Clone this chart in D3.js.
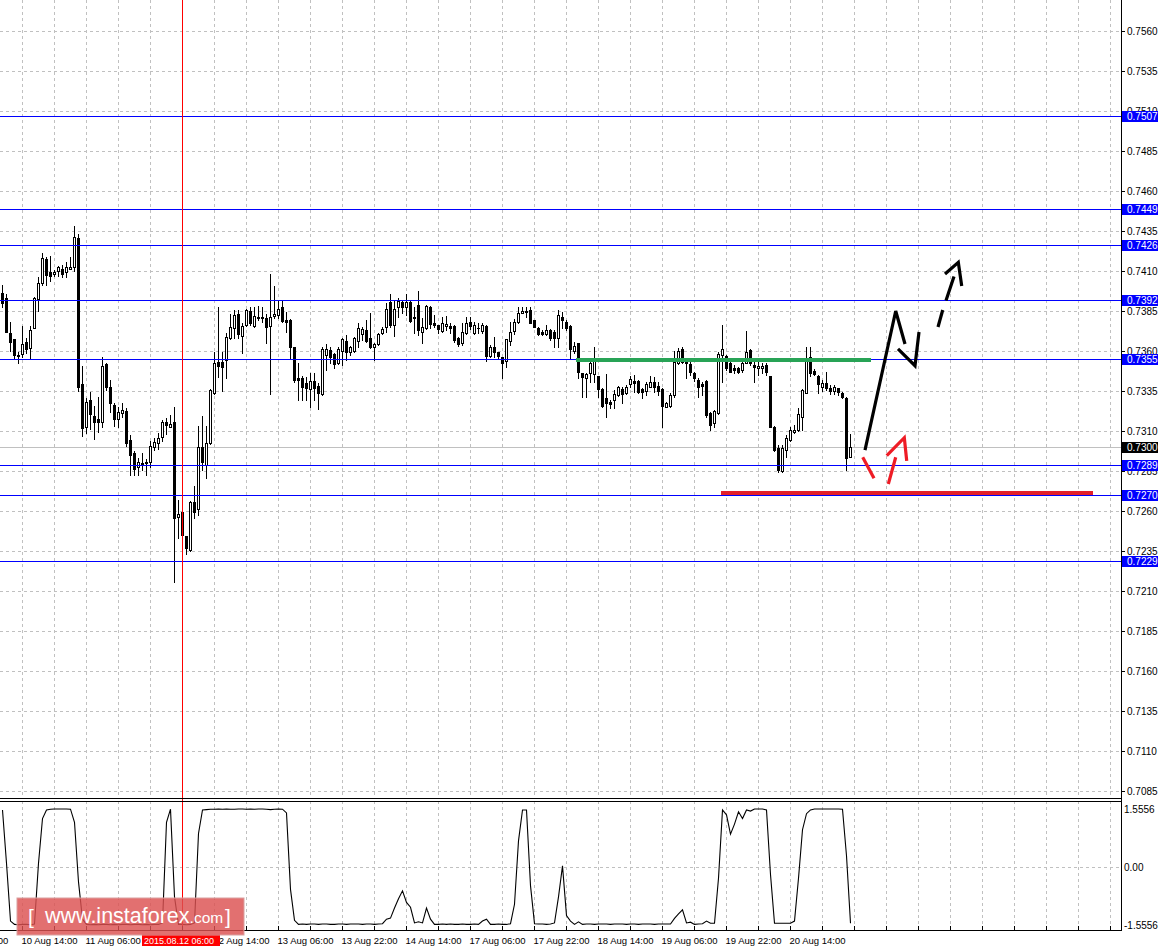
<!DOCTYPE html>
<html><head><meta charset="utf-8">
<script src="https://cdn.jsdelivr.net/npm/d3@7"></script>
<style>
html,body{margin:0;padding:0;background:#fff;overflow:hidden;}
svg{display:block;}
text{font-family:"Liberation Sans",Arial,sans-serif;}
</style></head><body>
<svg id="c" width="1161" height="948"></svg>
<script>
// ---------- DATA ----------
// hourly candles [open, high, low, close]
const ohlc = [
[0.73963,0.74013,0.73875,0.73900],[0.73932,0.73957,0.73719,0.73719],[0.73713,0.73781,0.73600,0.73656],[0.73675,0.73675,0.73557,0.73575],
[0.73570,0.73594,0.73525,0.73575],[0.73582,0.73757,0.73563,0.73644],[0.73657,0.73682,0.73588,0.73613],[0.73619,0.73757,0.73557,0.73732],
[0.73744,0.73938,0.73744,0.73932],[0.73925,0.74063,0.73850,0.74025],[0.74025,0.74213,0.74013,0.74182],[0.74175,0.74188,0.74013,0.74075],
[0.74094,0.74194,0.74038,0.74069],[0.74082,0.74107,0.74069,0.74094],[0.74100,0.74132,0.74069,0.74125],[0.74113,0.74138,0.74063,0.74082],
[0.74094,0.74157,0.74063,0.74125],[0.74113,0.74188,0.74113,0.74125],[0.74125,0.74382,0.74100,0.74313],[0.74307,0.74332,0.73350,0.73375],
[0.73394,0.73507,0.73069,0.73119],[0.73125,0.73307,0.73088,0.73282],[0.73294,0.73344,0.73113,0.73207],[0.73194,0.73257,0.73050,0.73157],
[0.73175,0.73313,0.73094,0.73157],[0.73157,0.73563,0.73125,0.73507],[0.73519,0.73525,0.73357,0.73375],[0.73375,0.73419,0.73219,0.73275],
[0.73263,0.73275,0.73132,0.73175],[0.73175,0.73250,0.73125,0.73219],[0.73213,0.73275,0.73188,0.73232],[0.73225,0.73244,0.73007,0.73025],
[0.73044,0.73075,0.72825,0.72950],[0.72963,0.72975,0.72825,0.72863],[0.72875,0.72932,0.72825,0.72907],[0.72894,0.72963,0.72857,0.72897],
[0.72900,0.72925,0.72825,0.72907],[0.72907,0.73038,0.72875,0.73007],[0.73000,0.73057,0.72982,0.73032],[0.73025,0.73088,0.72988,0.73057],
[0.73063,0.73169,0.73038,0.73157],[0.73157,0.73182,0.73082,0.73138],[0.73125,0.73200,0.73125,0.73144],[0.73157,0.73250,0.72157,0.72557],
[0.72563,0.72669,0.72432,0.72582],[0.72594,0.72600,0.72388,0.72450],[0.72444,0.72444,0.72332,0.72369],[0.72357,0.72660,0.72350,0.72657],
[0.72657,0.72757,0.72557,0.72594],[0.72613,0.73132,0.72575,0.73000],[0.73000,0.73194,0.72857,0.72907],[0.72888,0.73132,0.72807,0.73025],
[0.73025,0.73360,0.73020,0.73357],[0.73338,0.73594,0.73332,0.73525],[0.73532,0.73875,0.73438,0.73507],[0.73532,0.73594,0.73350,0.73500],
[0.73544,0.73713,0.73432,0.73688],[0.73682,0.73832,0.73675,0.73750],[0.73744,0.73857,0.73682,0.73825],[0.73832,0.73857,0.73682,0.73707],
[0.73694,0.73775,0.73588,0.73757],[0.73763,0.73863,0.73757,0.73857],[0.73850,0.73875,0.73763,0.73775],[0.73757,0.73875,0.73750,0.73819],
[0.73807,0.73882,0.73794,0.73813],[0.73813,0.73875,0.73782,0.73807],[0.73807,0.73832,0.73650,0.73750],[0.73757,0.74082,0.73332,0.73813],
[0.73819,0.74007,0.73807,0.73832],[0.73825,0.73919,0.73807,0.73863],[0.73875,0.73919,0.73782,0.73788],[0.73794,0.73844,0.73719,0.73782],
[0.73794,0.73800,0.73557,0.73625],[0.73625,0.73625,0.73407,0.73419],[0.73432,0.73525,0.73294,0.73419],[0.73432,0.73444,0.73294,0.73375],
[0.73400,0.73438,0.73294,0.73369],[0.73363,0.73463,0.73250,0.73413],[0.73413,0.73463,0.73294,0.73369],[0.73382,0.73400,0.73238,0.73338],
[0.73332,0.73625,0.73325,0.73613],[0.73575,0.73644,0.73482,0.73613],[0.73607,0.73625,0.73525,0.73563],[0.73582,0.73588,0.73494,0.73519],
[0.73525,0.73625,0.73519,0.73613],[0.73600,0.73680,0.73513,0.73675],[0.73663,0.73700,0.73544,0.73594],[0.73594,0.73632,0.73575,0.73625],
[0.73600,0.73688,0.73594,0.73682],[0.73663,0.73775,0.73625,0.73744],[0.73707,0.73750,0.73669,0.73738],[0.73732,0.73794,0.73657,0.73663],
[0.73682,0.73838,0.73620,0.73625],[0.73625,0.73650,0.73544,0.73644],[0.73644,0.73713,0.73638,0.73707],[0.73713,0.73750,0.73707,0.73738],
[0.73750,0.73900,0.73719,0.73863],[0.73907,0.73957,0.73750,0.73763],[0.73763,0.73919,0.73694,0.73863],[0.73875,0.73932,0.73813,0.73913],
[0.73907,0.73913,0.73838,0.73875],[0.73875,0.73957,0.73825,0.73907],[0.73907,0.73913,0.73782,0.73788],[0.73813,0.73875,0.73713,0.73807],
[0.73888,0.73975,0.73700,0.73732],[0.73719,0.73807,0.73650,0.73750],[0.73744,0.73885,0.73738,0.73882],[0.73875,0.73882,0.73744,0.73769],
[0.73775,0.73825,0.73750,0.73763],[0.73763,0.73765,0.73713,0.73738],[0.73725,0.73813,0.73719,0.73775],[0.73757,0.73819,0.73732,0.73769],
[0.73757,0.73775,0.73713,0.73744],[0.73757,0.73763,0.73657,0.73669],[0.73682,0.73688,0.73632,0.73644],[0.73650,0.73775,0.73638,0.73719],
[0.73713,0.73813,0.73707,0.73775],[0.73782,0.73813,0.73738,0.73757],[0.73713,0.73782,0.73707,0.73763],[0.73744,0.73775,0.73713,0.73744],
[0.73725,0.73775,0.73713,0.73763],[0.73757,0.73763,0.73538,0.73569],[0.73569,0.73638,0.73563,0.73625],[0.73625,0.73688,0.73563,0.73594],
[0.73594,0.73596,0.73557,0.73569],[0.73563,0.73565,0.73432,0.73525],[0.73538,0.73678,0.73500,0.73675],[0.73663,0.73782,0.73638,0.73719],
[0.73725,0.73800,0.73707,0.73782],[0.73782,0.73875,0.73775,0.73838],[0.73838,0.73875,0.73836,0.73850],[0.73850,0.73875,0.73813,0.73844],
[0.73857,0.73875,0.73772,0.73775],[0.73794,0.73796,0.73748,0.73750],[0.73744,0.73750,0.73700,0.73707],[0.73719,0.73732,0.73700,0.73707],
[0.73707,0.73763,0.73700,0.73732],[0.73732,0.73738,0.73669,0.73682],[0.73719,0.73732,0.73625,0.73682],[0.73682,0.73857,0.73625,0.73825],
[0.73813,0.73844,0.73744,0.73794],[0.73782,0.73794,0.73732,0.73744],[0.73757,0.73760,0.73557,0.73613],[0.73600,0.73657,0.73588,0.73632],
[0.73650,0.73652,0.73432,0.73469],[0.73463,0.73465,0.73313,0.73438],[0.73432,0.73463,0.73313,0.73457],[0.73463,0.73532,0.73407,0.73525],
[0.73457,0.73625,0.73407,0.73550],[0.73444,0.73446,0.73313,0.73363],[0.73363,0.73369,0.73250,0.73257],[0.73307,0.73457,0.73188,0.73275],
[0.73282,0.73294,0.73244,0.73269],[0.73294,0.73357,0.73244,0.73332],[0.73325,0.73382,0.73319,0.73375],[0.73363,0.73375,0.73275,0.73332],
[0.73338,0.73388,0.73330,0.73375],[0.73394,0.73444,0.73375,0.73425],[0.73413,0.73450,0.73344,0.73400],[0.73413,0.73419,0.73338,0.73344],
[0.73363,0.73369,0.73307,0.73344],[0.73350,0.73407,0.73325,0.73394],[0.73375,0.73444,0.73373,0.73407],[0.73407,0.73438,0.73344,0.73375],
[0.73382,0.73407,0.73325,0.73350],[0.73363,0.73369,0.73125,0.73257],[0.73250,0.73282,0.73248,0.73275],[0.73257,0.73338,0.73250,0.73325],
[0.73325,0.73600,0.73313,0.73532],[0.73525,0.73619,0.73519,0.73600],[0.73613,0.73625,0.73525,0.73532],[0.73532,0.73550,0.73432,0.73525],
[0.73519,0.73532,0.73450,0.73469],[0.73463,0.73469,0.73413,0.73432],[0.73419,0.73432,0.73313,0.73375],[0.73394,0.73407,0.73325,0.73382],
[0.73413,0.73419,0.73188,0.73200],[0.73213,0.73219,0.73107,0.73138],[0.73150,0.73232,0.73125,0.73225],[0.73213,0.73594,0.73207,0.73582],
[0.73575,0.73763,0.73407,0.73613],[0.73569,0.73575,0.73482,0.73494],[0.73525,0.73532,0.73466,0.73469],[0.73494,0.73513,0.73463,0.73482],
[0.73494,0.73500,0.73463,0.73469],[0.73482,0.73544,0.73469,0.73525],[0.73525,0.73725,0.73522,0.73594],[0.73607,0.73613,0.73513,0.73525],
[0.73513,0.73532,0.73407,0.73500],[0.73494,0.73532,0.73450,0.73507],[0.73494,0.73525,0.73463,0.73507],[0.73513,0.73525,0.73450,0.73469],
[0.73444,0.73446,0.73122,0.73125],[0.73125,0.73132,0.72975,0.72982],[0.72994,0.73013,0.72844,0.72857],[0.72850,0.73013,0.72844,0.72994],
[0.72982,0.73075,0.72938,0.73057],[0.73044,0.73125,0.73038,0.73107],[0.73094,0.73138,0.73088,0.73107],[0.73107,0.73244,0.73100,0.73207],
[0.73188,0.73363,0.73107,0.73357],[0.73338,0.73625,0.73335,0.73557],[0.73563,0.73625,0.73444,0.73463],[0.73475,0.73488,0.73450,0.73457],
[0.73444,0.73450,0.73338,0.73394],[0.73375,0.73419,0.73350,0.73400],[0.73400,0.73469,0.73357,0.73369],[0.73369,0.73388,0.73332,0.73350],
[0.73350,0.73388,0.73332,0.73375],[0.73369,0.73371,0.73325,0.73344],[0.73338,0.73344,0.73307,0.73313],[0.73307,0.73313,0.72857,0.72932],
[0.72938,0.73082,0.72935,0.73003]
];

// oscillator in the lower window, one value per candle
const oscillator = [
1.53,0.10,-1.45,-1.54,-1.55,-1.54,-1.54,-1.55,-1.53,0.10,
1.30,1.53,1.55,1.556,1.556,1.556,1.556,1.55,1.20,-0.40,
-1.40,-1.54,-1.55,-1.54,-1.55,-1.54,-1.54,-1.55,-1.54,-1.55,
-1.54,-1.54,-1.55,-1.54,-1.54,-1.55,-1.54,-1.55,-1.54,-1.54,
-1.50,1.20,1.55,-0.80,-1.54,-1.54,-1.55,-1.54,-1.50,0.90,
1.53,1.54,1.55,1.55,1.556,1.55,1.556,1.55,1.55,1.556,
1.556,1.55,1.556,1.55,1.556,1.556,1.55,1.54,1.55,1.556,
1.55,1.45,-0.60,-1.43,-1.54,-1.53,-1.54,-1.53,-1.53,-1.54,
-1.53,-1.53,-1.54,-1.54,-1.53,-1.53,-1.54,-1.53,-1.53,-1.53,
-1.54,-1.53,-1.53,-1.54,-1.53,-1.52,-1.40,-1.37,-1.10,-0.85,
-0.64,-0.95,-1.08,-1.50,-1.47,-1.50,-1.10,-1.40,-1.54,-1.54,
-1.53,-1.54,-1.53,-1.54,-1.54,-1.53,-1.54,-1.54,-1.53,-1.54,
-1.45,-1.40,-1.54,-1.54,-1.53,-1.54,-1.54,-1.52,-1.00,0.70,
1.53,1.53,-0.50,-1.52,-1.53,-1.53,-1.54,-1.53,-1.50,-0.80,
0.03,-1.30,-1.45,-1.54,-1.47,-1.54,-1.53,-1.53,-1.54,-1.53,
-1.53,-1.53,-1.54,-1.53,-1.53,-1.53,-1.54,-1.53,-1.53,-1.54,
-1.53,-1.53,-1.53,-1.54,-1.53,-1.53,-1.53,-1.53,-1.38,-1.26,
-1.15,-1.50,-1.48,-1.54,-1.53,-1.52,-1.45,-1.51,-1.51,-0.30,
1.53,1.40,0.88,1.15,1.48,1.30,1.53,1.50,1.556,1.556,
1.556,1.53,-0.20,-1.51,-1.51,-1.51,-1.51,-1.51,-1.45,-0.30,
1.00,1.43,1.53,1.556,1.556,1.556,1.556,1.556,1.556,1.556,
1.55,0.30,-1.51
];

const priceTicks = [0.7560,0.7535,0.7510,0.7485,0.7460,0.7435,0.7410,0.7385,0.7360,0.7335,0.7310,0.7285,0.7260,0.7235,0.7210,0.7185,0.7160,0.7135,0.7110,0.7085];
const levelPrices = [0.7507,0.7449,0.7426,0.7392,0.7355,0.7289,0.7270,0.7229];
const bidPrice = 0.7300;
const oscTicks = [1.5556,0,-1.5556];
const oscTickLabels = ["1.5556","0.00","-1.5556"];
const timeLabels = ["9 Aug 22:00","10 Aug 14:00","11 Aug 06:00","11 Aug 22:00","12 Aug 14:00","13 Aug 06:00","13 Aug 22:00","14 Aug 14:00","17 Aug 06:00","17 Aug 22:00","18 Aug 14:00","19 Aug 06:00","19 Aug 22:00","20 Aug 14:00"];
const timeLabelBars = [-11,5,21,37,53,69,85,101,117,133,149,165,181,197];
const markerBar = 45, markerLabel = "2015.08.12 06:00";
const greenLevel = [143.5, 217.25, 0.73544];   // [fromBar, toBar, price]
const redLevel = [179.75, 272.75, 0.72713];
// hand-drawn forecast arrows: [bar, price] points
const blackArrows = [
  [[215.75,0.72981],[223.43,0.73850],[225.75,0.73644]],
  [[224.0,0.73613],[228.25,0.73508],[229.25,0.73719]]
];
const blackDashArrows = [
  [[234.0,0.73750],[235.18,0.73856]],
  [[236.0,0.73915],[238.0,0.74065]],
  [[235.75,0.74081],[239.08,0.74154],[239.93,0.74006]]
];
const redArrows = [
  [[215.18,0.72936],[218.0,0.72804]],
  [[221.58,0.72769],[223.43,0.72936]],
  [[221.18,0.72946],[225.58,0.73058],[226.18,0.72913]]
];

// ---------- LAYOUT ----------
const PR = 1121, MB = 799, IT = 801, IB = 930;
const svg = d3.select('#c');
const x = d3.scaleLinear().domain([0,1]).range([2,6]);
const y = d3.scaleLinear().domain([0.7085,0.7560]).range([791,31]);
const yo = d3.scaleLinear().domain([-1.5556,1.5556]).range([925,809]);
const cr = v => Math.round(v) + 0.5;
const GRID = '#c0c0c0';

const defs = svg.append('defs');
defs.append('clipPath').attr('id','cm').append('rect').attr('x',0).attr('y',0).attr('width',PR).attr('height',MB);
defs.append('clipPath').attr('id','co').append('rect').attr('x',0).attr('y',IT+1).attr('width',PR).attr('height',IB-IT-1);

const gridBars = d3.range(-11, 280, 8).filter(b => x(b) > -60 && x(b) < PR);

// main panel
const gm = svg.append('g').attr('clip-path','url(#cm)');
gm.selectAll('line.hg').data(priceTicks).join('line').attr('class','hg')
  .attr('x1',0).attr('x2',PR).attr('y1',d=>cr(y(d))).attr('y2',d=>cr(y(d)))
  .attr('stroke',GRID).attr('stroke-dasharray','3,3');
gm.selectAll('line.vg').data(gridBars).join('line').attr('class','vg')
  .attr('x1',d=>cr(x(d))).attr('x2',d=>cr(x(d))).attr('y1',0).attr('y2',MB)
  .attr('stroke',GRID).attr('stroke-dasharray','3,3');
gm.append('line').attr('x1',0).attr('x2',PR).attr('y1',cr(y(bidPrice))).attr('y2',cr(y(bidPrice))).attr('stroke',GRID);

// candles
const cg = gm.append('g');
ohlc.forEach((d,i) => {
  const [o,h,l,c] = d;
  const cx = x(i);
  const hi = Math.max(h,o,c), lo = Math.min(l,o,c);
  cg.append('line').attr('x1',cx+0.5).attr('x2',cx+0.5)
    .attr('y1',Math.round(y(hi))).attr('y2',Math.round(y(lo))+1)
    .attr('stroke','#000').attr('stroke-width',1);
  const top = Math.round(y(Math.max(o,c))), bot = Math.round(y(Math.min(o,c)));
  if (c > o) {
    cg.append('rect').attr('x',cx-0.5).attr('y',top+0.5).attr('width',2).attr('height',Math.max(bot-top,1))
      .attr('fill','#fff').attr('stroke','#000').attr('stroke-width',1);
  } else {
    cg.append('rect').attr('x',cx-1).attr('y',top).attr('width',3).attr('height',Math.max(bot-top+1,1))
      .attr('fill','#000');
  }
});

// level lines
gm.selectAll('line.lv').data(levelPrices).join('line').attr('class','lv')
  .attr('x1',0).attr('x2',PR).attr('y1',d=>cr(y(d))).attr('y2',d=>cr(y(d)))
  .attr('stroke','#0000ff').attr('stroke-width',1);

gm.append('line').attr('x1',x(greenLevel[0])).attr('x2',x(greenLevel[1]))
  .attr('y1',y(greenLevel[2])).attr('y2',y(greenLevel[2])).attr('stroke','#28a356').attr('stroke-width',4);
gm.append('line').attr('x1',x(redLevel[0])).attr('x2',x(redLevel[1]))
  .attr('y1',y(redLevel[2])).attr('y2',y(redLevel[2])).attr('stroke','#e3202a').attr('stroke-width',4);

const ln = d3.line().x(p=>x(p[0])).y(p=>y(p[1]));
gm.selectAll('path.ba').data(blackArrows).join('path').attr('class','ba').attr('d',ln)
  .attr('fill','none').attr('stroke','#000').attr('stroke-width',3.2).attr('stroke-linejoin','miter');
gm.selectAll('path.bd').data(blackDashArrows).join('path').attr('class','bd').attr('d',ln)
  .attr('fill','none').attr('stroke','#000').attr('stroke-width',3.2).attr('stroke-linejoin','miter');
gm.selectAll('path.ra').data(redArrows).join('path').attr('class','ra').attr('d',ln)
  .attr('fill','none').attr('stroke','#ee1c25').attr('stroke-width',3.2).attr('stroke-linejoin','miter');

// oscillator panel
const go = svg.append('g').attr('clip-path','url(#co)');
go.append('line').attr('x1',0).attr('x2',PR).attr('y1',cr(yo(0))).attr('y2',cr(yo(0)))
  .attr('stroke',GRID).attr('stroke-dasharray','3,3');
go.selectAll('line.vg').data(gridBars).join('line').attr('class','vg')
  .attr('x1',d=>cr(x(d))).attr('x2',d=>cr(x(d))).attr('y1',IT).attr('y2',IB)
  .attr('stroke',GRID).attr('stroke-dasharray','3,3');
go.append('path').datum(oscillator)
  .attr('d', d3.line().x((d,i)=>x(i)+0.5).y(d=>yo(d)))
  .attr('fill','none').attr('stroke','#000').attr('stroke-width',1.1);

// marker vertical line
svg.append('line').attr('x1',cr(x(markerBar))).attr('x2',cr(x(markerBar))).attr('y1',0).attr('y2',IB)
  .attr('stroke','#ff0000').attr('stroke-width',1);

// frames
const fr = svg.append('g').attr('stroke','#000').attr('stroke-width',1);
fr.append('line').attr('x1',PR+0.5).attr('x2',PR+0.5).attr('y1',0).attr('y2',IB+1);
fr.append('line').attr('x1',0).attr('x2',PR+1).attr('y1',MB-0.5).attr('y2',MB-0.5);
fr.append('line').attr('x1',0).attr('x2',PR+1).attr('y1',IT+0.5).attr('y2',IT+0.5);
fr.append('line').attr('x1',0).attr('x2',PR+1).attr('y1',IB+0.5).attr('y2',IB+0.5);

// price axis
const FF = '"Liberation Sans",Arial,sans-serif';
const pa = svg.append('g').attr('transform',`translate(${PR},0)`)
  .call(d3.axisRight(y).tickValues(priceTicks).tickSize(4).tickPadding(2).tickFormat(d3.format('.4f')));
pa.select('.domain').remove();
pa.attr('font-family',FF).attr('font-size',10);
pa.selectAll('text').attr('fill','#000');

// oscillator axis
const oa = svg.append('g').attr('transform',`translate(${PR},0)`)
  .call(d3.axisRight(yo).tickValues(oscTicks).tickSize(0).tickPadding(3).tickFormat((d,i)=>oscTickLabels[i]));
oa.select('.domain').remove();
oa.attr('font-family',FF).attr('font-size',10);
oa.selectAll('text').attr('fill','#000');

// level labels
const lab = svg.append('g');
levelPrices.forEach(p => {
  const yy = Math.round(y(p));
  lab.append('rect').attr('x',PR+1).attr('y',yy-5).attr('width',36).attr('height',11).attr('fill','#0000ff');
  lab.append('text').attr('x',PR+6).attr('y',yy+0.5).attr('dy','0.35em').attr('font-size',10)
    .attr('fill','#fff').text(d3.format('.4f')(p));
});
{
  const yy = Math.round(y(bidPrice));
  lab.append('rect').attr('x',PR+1).attr('y',yy-5).attr('width',36).attr('height',11).attr('fill','#000');
  lab.append('text').attr('x',PR+6).attr('y',yy+0.5).attr('dy','0.35em').attr('font-size',10)
    .attr('fill','#fff').text(d3.format('.4f')(bidPrice));
}

// time axis
const ta = svg.append('g').attr('transform',`translate(0,${IB})`)
  .call(d3.axisBottom(x).tickValues(gridBars).tickSize(-4).tickPadding(7)
    .tickFormat(b => { const k = timeLabelBars.indexOf(b); return k >= 0 ? timeLabels[k] : ''; }));
ta.select('.domain').remove();
ta.attr('font-family',FF).attr('font-size',9.5).attr('text-anchor','start');
ta.selectAll('text').attr('fill','#000').attr('x',-1);

// marker time label
svg.append('rect').attr('x',x(markerBar)-40).attr('y',934).attr('width',78).attr('height',12).attr('fill','#ff0000');
svg.append('text').attr('x',x(markerBar)-38).attr('y',944).attr('font-size',9).attr('fill','#fff').text(markerLabel);

// logo
const lg = svg.append('g');
lg.append('rect').attr('x',17).attr('y',898).attr('width',227).attr('height',37)
  .attr('fill','rgb(220,80,80)').attr('fill-opacity',0.82).attr('stroke','#d9a0a0').attr('stroke-width',1);
lg.append('text').attr('x',28).attr('y',924).attr('font-size',21).attr('fill','#fff').text('[');
const lt = lg.append('text').attr('x',45).attr('y',923).attr('fill','#fff');
lt.append('tspan').attr('font-size',21.5).text('www.instaforex');
lt.append('tspan').attr('font-size',15.5).text('.com');
lg.append('text').attr('x',225).attr('y',924).attr('font-size',21).attr('fill','#fff').text(']');
</script>
</body></html>
